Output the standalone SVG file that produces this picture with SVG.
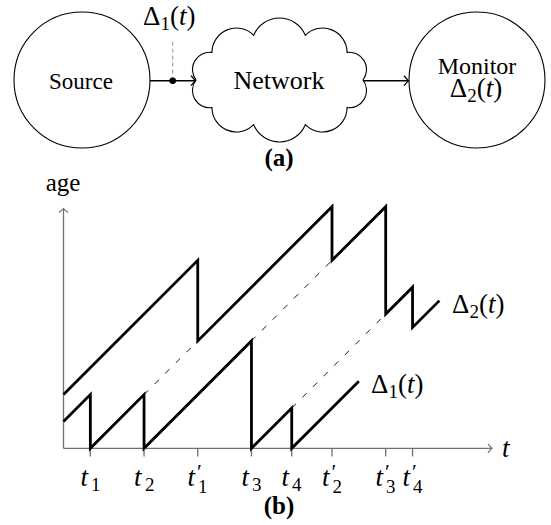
<svg xmlns="http://www.w3.org/2000/svg" width="551" height="525" viewBox="0 0 551 525">
  <style>
    .txt { font-family: "Liberation Serif", Tinos, "Times New Roman", serif; fill: #000; }
    .math { font-family: "Liberation Serif", Tinos, "Times New Roman", serif; font-size: 27px; fill: #000; }
    .it { font-style: italic; }
    .sub { font-size: 19px; font-style: normal; }
    .pr { font-size: 22px; font-style: normal; }
    .bold { font-weight: bold; font-size: 25px; }
    .node { fill: #fff; stroke: #000; stroke-width: 1.1; }
    .conn { fill: none; stroke: #000; stroke-width: 1.4; }
    .axis { fill: none; stroke: #707070; stroke-width: 1.3; }
    .saw { fill: none; stroke: #000; stroke-width: 2.8; stroke-linejoin: miter; stroke-miterlimit: 10; }
    .dash { fill: none; stroke: #000; stroke-width: 0.9; stroke-dasharray: 6 9; }
  </style>
  <defs>
    <marker id="arr" markerUnits="userSpaceOnUse" viewBox="-7 -7 9 14" markerWidth="9" markerHeight="14" refX="0" refY="0" orient="auto">
      <path d="M -4.5 -5 Q -1.5 -1.2 0 0 Q -1.5 1.2 -4.5 5" fill="none" stroke="#000" stroke-width="1.3"/>
    </marker>
    <marker id="arrg" markerUnits="userSpaceOnUse" viewBox="-7 -7 9 14" markerWidth="9" markerHeight="14" refX="0" refY="0" orient="auto">
      <path d="M -4 -4.5 Q -1.3 -1 0 0 Q -1.3 1 -4 4.5" fill="none" stroke="#707070" stroke-width="1.2"/>
    </marker>
  </defs>

  <!-- (a) network diagram -->
  <g id="source">
    <circle class="node" cx="82" cy="80" r="68"/>
    <text class="txt" x="81" y="89" font-size="23" text-anchor="middle">Source</text>
  </g>
  <g id="network">
    <path class="node" d="M 363 80 A 17.3 17.3 0 0 0 347.05 52.37 A 24.4 24.4 0 0 0 305.3 35.3 A 27.9 27.9 0 0 0 253.7 35.3 A 24.4 24.4 0 0 0 211.95 52.37 A 17.3 17.3 0 0 0 196 80 A 17.3 17.3 0 0 0 211.95 107.63 A 24.4 24.4 0 0 0 253.7 124.7 A 27.9 27.9 0 0 0 305.3 124.7 A 24.4 24.4 0 0 0 347.05 107.63 A 17.3 17.3 0 0 0 363 80 Z"/>
    <text class="txt" x="279" y="89" font-size="26" text-anchor="middle">Network</text>
  </g>
  <g id="monitor">
    <circle class="node" cx="477" cy="80" r="68"/>
    <text class="txt" x="477" y="74" font-size="24" text-anchor="middle">Monitor</text>
    <text class="math" x="476" y="97" text-anchor="middle">Δ<tspan class="sub" dy="5">2</tspan><tspan dy="-5">(</tspan><tspan class="it">t</tspan>)</text>
  </g>
  <g id="connectors">
    <line class="conn" x1="150" y1="80.7" x2="195.5" y2="80.7" marker-end="url(#arr)"/>
    <line class="conn" x1="363" y1="80.7" x2="408.5" y2="80.7" marker-end="url(#arr)"/>
    <line x1="172.7" y1="80.7" x2="172.7" y2="40" stroke="#8a8a8a" stroke-width="0.9" stroke-dasharray="4 3"/>
    <circle cx="172.7" cy="80.7" r="3.3" fill="#000"/>
  </g>
  <g id="delta1-top-label">
    <text class="math" x="143" y="25">Δ<tspan class="sub" dy="5">1</tspan><tspan dy="-5">(</tspan><tspan class="it">t</tspan>)</text>
  </g>
  <text class="txt bold" x="279" y="166" text-anchor="middle">(a)</text>

  <!-- (b) age plot -->
  <g id="plot">
    <line class="axis" x1="63.5" y1="448.3" x2="63.5" y2="208.5" marker-end="url(#arrg)"/>
    <line class="axis" x1="63.5" y1="448.3" x2="492" y2="448.3" marker-end="url(#arrg)"/>
    <g class="axis">
      <line x1="90.35" y1="448.3" x2="90.35" y2="456.5"/>
      <line x1="144.05" y1="448.3" x2="144.05" y2="456.5"/>
      <line x1="197.75" y1="448.3" x2="197.75" y2="456.5"/>
      <line x1="251.45" y1="448.3" x2="251.45" y2="456.5"/>
      <line x1="291.73" y1="448.3" x2="291.73" y2="456.5"/>
      <line x1="332" y1="448.3" x2="332" y2="456.5"/>
      <line x1="385.7" y1="448.3" x2="385.7" y2="456.5"/>
      <line x1="412.55" y1="448.3" x2="412.55" y2="456.5"/>
    </g>
    <text class="txt" x="63" y="191" font-size="25" text-anchor="middle">age</text>
    <text class="math it" x="502" y="457">t</text>

    <path class="dash" d="M 144.05 394.6 L 197.75 340.9"/>
    <path class="dash" d="M 251.45 340.9 L 332 260.35"/>
    <path class="dash" d="M 291.73 408.03 L 385.7 314.05"/>

    <path class="saw" d="M 63.5 421.45 L 90.35 394.6 L 90.35 448.3 L 144.05 394.6 L 144.05 448.3 L 251.45 340.9 L 251.45 448.3 L 291.73 408.03 L 291.73 448.3 L 358.85 381.18"/>
    <path class="saw" d="M 63.5 394.6 L 197.75 260.35 L 197.75 340.9 L 332 206.65 L 332 260.35 L 385.7 206.65 L 385.7 314.05 L 412.55 287.2 L 412.55 327.48 L 439.4 300.63"/>

    <text class="math" x="452" y="313">Δ<tspan class="sub" dy="5">2</tspan><tspan dy="-5">(</tspan><tspan class="it">t</tspan>)</text>
    <text class="math" x="371" y="393">Δ<tspan class="sub" dy="5">1</tspan><tspan dy="-5">(</tspan><tspan class="it">t</tspan>)</text>

    <!-- tick labels -->
    <text class="math"><tspan class="it" x="80.5" y="486">t</tspan><tspan class="sub" x="91" y="491">1</tspan></text>
    <text class="math"><tspan class="it" x="134" y="486">t</tspan><tspan class="sub" x="145" y="491">2</tspan></text>
    <text class="math"><tspan class="it" x="187.5" y="486">t</tspan><tspan class="pr" x="197" y="479">′</tspan><tspan class="sub" x="198" y="493">1</tspan></text>
    <text class="math"><tspan class="it" x="241.5" y="486">t</tspan><tspan class="sub" x="252" y="491">3</tspan></text>
    <text class="math"><tspan class="it" x="281.5" y="486">t</tspan><tspan class="sub" x="292" y="491">4</tspan></text>
    <text class="math"><tspan class="it" x="322" y="486">t</tspan><tspan class="pr" x="331.5" y="479">′</tspan><tspan class="sub" x="332.5" y="493">2</tspan></text>
    <text class="math"><tspan class="it" x="375.5" y="486">t</tspan><tspan class="pr" x="385" y="479">′</tspan><tspan class="sub" x="386" y="493">3</tspan></text>
    <text class="math"><tspan class="it" x="402.5" y="486">t</tspan><tspan class="pr" x="412" y="479">′</tspan><tspan class="sub" x="413" y="493">4</tspan></text>
  </g>
  <text class="txt bold" x="279" y="514" text-anchor="middle">(b)</text>
</svg>
